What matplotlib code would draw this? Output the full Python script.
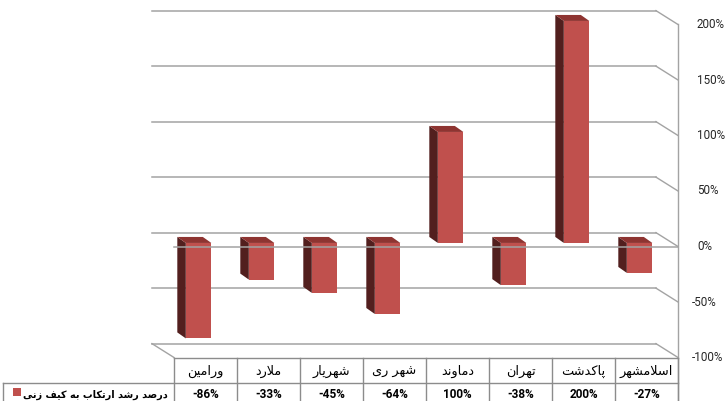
import matplotlib
matplotlib.use('Agg')
import matplotlib.pyplot as plt
from matplotlib.patches import Polygon, Rectangle

# ---------------- data ----------------
categories = ['اسلامشهر', 'پاکدشت', 'تهران', 'دماوند', 'شهر ری', 'شهریار', 'ملارد', 'ورامین']
values = [-27, 200, -38, 100, -64, -45, -33, -86]
value_labels = ['-27%', '200%', '-38%', '100%', '-64%', '-45%', '-33%', '-86%']
series_name = 'درصد رشد ارتکاب به کیف زنی'
y_ticks = [200, 150, 100, 50, 0, -50, -100]
y_tick_labels = ['200%', '150%', '100%', '50%', '0%', '-50%', '-100%']

# ---------------- simple Persian shaping (presentation forms + RTL) ----------------
FOUR = {'ب': 0xFE8F, 'ت': 0xFE95, 'ث': 0xFE99, 'ج': 0xFE9D, 'ح': 0xFEA1, 'خ': 0xFEA5,
        'س': 0xFEB1, 'ش': 0xFEB5, 'ص': 0xFEB9, 'ض': 0xFEBD, 'ط': 0xFEC1, 'ظ': 0xFEC5,
        'ع': 0xFEC9, 'غ': 0xFECD, 'ف': 0xFED1, 'ق': 0xFED5, 'ل': 0xFEDD, 'م': 0xFEE1,
        'ن': 0xFEE5, 'ه': 0xFEE9, 'ي': 0xFEF1, 'پ': 0xFB56, 'چ': 0xFB7A, 'ک': 0xFB8E,
        'گ': 0xFB92, 'ی': 0xFBFC}
TWO = {'ا': 0xFE8D, 'آ': 0xFE81, 'د': 0xFEA9, 'ذ': 0xFEAB, 'ر': 0xFEAD, 'ز': 0xFEAF,
       'ژ': 0xFB8A, 'و': 0xFEED}


def shape(s):
    out = []
    i = 0
    n = len(s)
    while i < n:
        c = s[i]
        prev_c = s[i - 1] if i > 0 else ''
        next_c = s[i + 1] if i + 1 < n else ''
        pj = prev_c in FOUR
        if c == 'ل' and next_c == 'ا':
            out.append(chr(0xFEFC if pj else 0xFEFB))
            i += 2
            continue
        if c in FOUR:
            nj = next_c in FOUR or next_c in TWO
            if pj and nj:
                k = 3
            elif pj:
                k = 1
            elif nj:
                k = 2
            else:
                k = 0
            out.append(chr(FOUR[c] + k))
        elif c in TWO:
            out.append(chr(TWO[c] + (1 if pj else 0)))
        else:
            out.append(c)
        i += 1
    return ''.join(reversed(out))


# ---------------- figure ----------------
W, H = 728, 401
fig = plt.figure(figsize=(W / 100, H / 100), dpi=100)
ax = fig.add_axes([0, 0, 1, 1])
# axes mapping: x in category columns, y in percent (front plane)
X0_PX, COL_PX = 174, 63.0
Y0_PX, PX_PER = 246.5, 1.11
ax.set_xlim(-X0_PX / COL_PX, (W - X0_PX) / COL_PX)
ax.set_ylim(-(H - Y0_PX) / PX_PER, Y0_PX / PX_PER)
ax.axis('off')
XMIN, YBOT = ax.get_xlim()[0], ax.get_ylim()[0]

n = len(categories)
pos = [n - 1 - i + 0.5 for i in range(n)]

GRID = '#a3a3a3'
TABLE = '#8c8c8c'
WALL_DX, WALL_DY = -0.35, 12.5
BAR_OFF_X, BAR_OFF_Y = -0.11, 3.2
BAR_W = 0.405
BAR_DX, BAR_DY = -0.135, 5.4
FRONT = '#c0504d'
SIDE = '#521f1e'
TOP = '#8e3431'

# back wall grid lines + side wall slopes
for v in y_ticks:
    ax.plot([WALL_DX, n + WALL_DX], [v + WALL_DY] * 2, color=GRID, lw=1.1, zorder=1)
    ax.plot([n + WALL_DX, n], [v + WALL_DY, v], color=GRID, lw=1.0, zorder=1)
ymin = y_ticks[-1]
ax.plot([WALL_DX, 0], [ymin + WALL_DY, ymin], color=GRID, lw=1.0, zorder=1)
ax.plot([n, n], [y_ticks[0], YBOT], color=GRID, lw=1.0, zorder=1)

# bars
for i, v in enumerate(values):
    xc = pos[i] + BAR_OFF_X
    xl, xr = xc - BAR_W / 2, xc + BAR_W / 2
    y0, y1 = BAR_OFF_Y, BAR_OFF_Y + v
    ytop, ybot = max(y0, y1), min(y0, y1)
    side = Polygon([(xl, ybot), (xl, ytop), (xl + BAR_DX, ytop + BAR_DY), (xl + BAR_DX, ybot + BAR_DY)],
                   closed=True, facecolor=SIDE, edgecolor='none', zorder=3)
    top = Polygon([(xl, ytop), (xr, ytop), (xr + BAR_DX, ytop + BAR_DY), (xl + BAR_DX, ytop + BAR_DY)],
                  closed=True, facecolor=TOP, edgecolor='none', zorder=3)
    front = Rectangle((xl, ybot), BAR_W, ytop - ybot, facecolor=FRONT, edgecolor='none', zorder=3)
    ax.add_patch(side)
    ax.add_patch(top)
    ax.add_patch(front)

# front zero line
ax.plot([0, n], [0, 0], color=GRID, lw=1.1, zorder=5)

# right axis labels
for v, lab in zip(y_ticks, y_tick_labels):
    xoff = 8.30 if v >= 0 else 8.22
    ax.text(xoff, v, lab, ha='left', va='center', fontsize=8.4, family='Roboto', color='#262626')

# data table
ROW_SEP = -123.4
ax.plot([0, n], [ymin, ymin], color=TABLE, lw=1.0, zorder=2)
for k in range(n + 1):
    ax.plot([k, k], [ymin, YBOT], color=TABLE, lw=1.0, zorder=2)
ax.plot([XMIN + 0.04, n], [ROW_SEP, ROW_SEP], color=TABLE, lw=1.0, zorder=2)
ax.plot([XMIN + 0.045, XMIN + 0.045], [ROW_SEP, YBOT], color=TABLE, lw=1.0, zorder=2)

for i in range(n):
    ax.text(pos[i], -112.3, shape(categories[i]), ha='center', va='center', fontsize=9.3,
            family='DejaVu Sans', color='black')
    ax.text(pos[i], -133.3, value_labels[i], ha='center', va='center', fontsize=8.5,
            family='Roboto', fontweight='bold', color='black')

# legend key in the table
ax.add_patch(Rectangle((XMIN + 13 / COL_PX, -134.6), 8 / COL_PX, 7.2,
                       facecolor=FRONT, edgecolor='none', zorder=3))
ax.text(-6 / COL_PX, -133.3, shape(series_name), ha='right', va='center', fontsize=7,
        family='DejaVu Sans', fontweight='bold', color='black')

fig.savefig('out.png', dpi=100)
